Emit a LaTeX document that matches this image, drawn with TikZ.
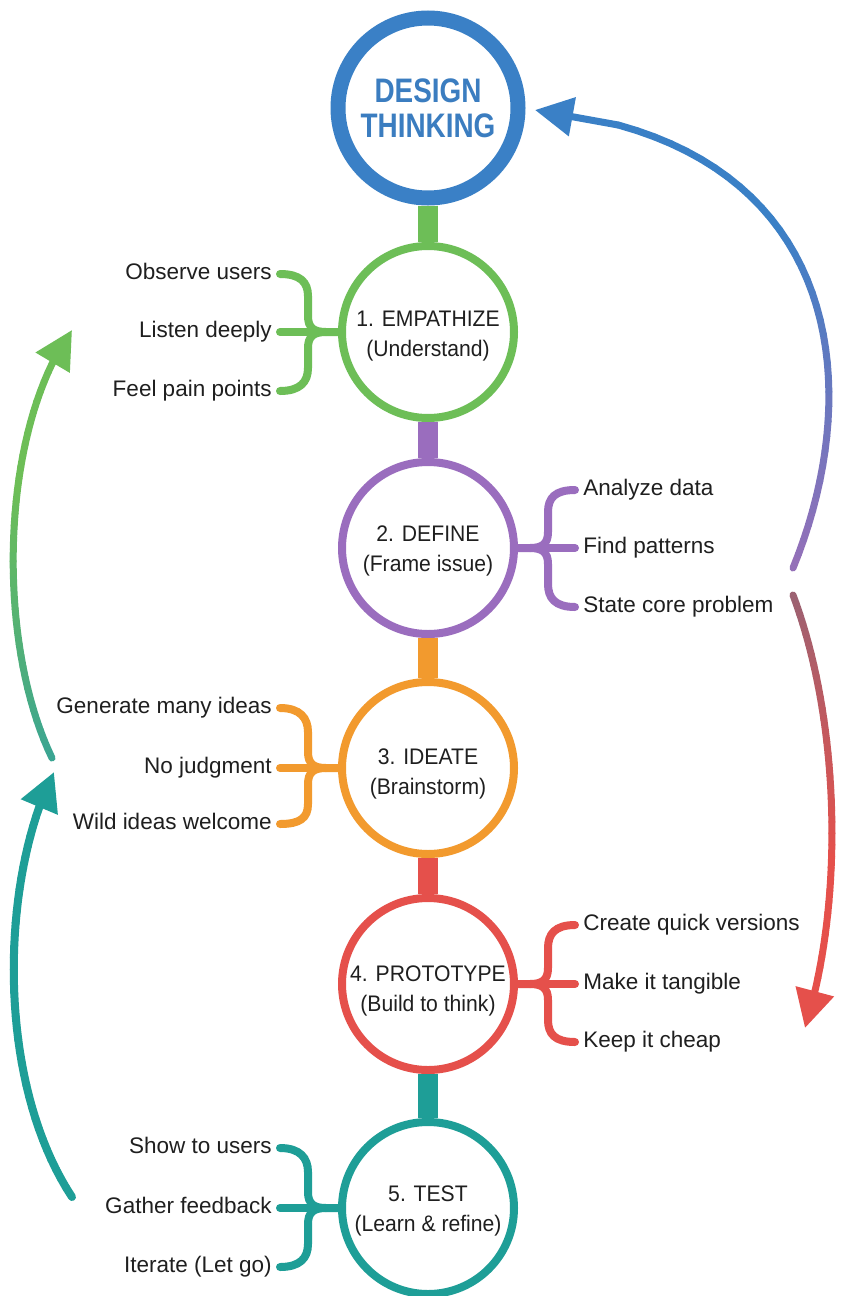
\documentclass[tikz,border=0pt]{standalone}
\usepackage{fontspec}
\setmainfont{Liberation Sans}
\newfontfamily\titlefont[FakeStretch=0.82]{Liberation Sans}
\newfontfamily\circfont[FakeStretch=0.94]{Liberation Sans}
\usetikzlibrary{arrows.meta,calc}
\definecolor{ttlblue}{HTML}{3B7DC0}
\definecolor{ringblue}{HTML}{3A80C6}
\definecolor{cgreen}{HTML}{6DBE57}
\definecolor{cpurple}{HTML}{9A6DBE}
\definecolor{corange}{HTML}{F29A2E}
\definecolor{cred}{HTML}{E5504B}
\definecolor{cteal}{HTML}{1E9E97}
\definecolor{txt}{HTML}{1F1F1F}
\definecolor{abluestart}{HTML}{9470B8}
\definecolor{aredstart}{HTML}{9C6272}
\definecolor{agreenstart}{HTML}{3BA592}
\newcommand\leftbr[6]{%
 \draw[bracepath=#1] ($(#4.mid east)+(8,0)$) .. controls +(20,0) and +(0,-14) .. (308,#3-36) -- (308,#3-16) .. controls +(0,12) and +(-12,0) .. (326,#3) -- (#2.west);
 \draw[bracepath=#1] ($(#6.mid east)+(8,0)$) .. controls +(20,0) and +(0,14) .. (308,#3+36) -- (308,#3+16) .. controls +(0,-12) and +(-12,0) .. (326,#3);
 \draw[bracepath=#1] ($(#5.mid east)+(8,0)$) -- (#2.west);
}
\newcommand\rightbr[6]{%
 \draw[bracepath=#1] ($(#4.mid west)+(-8,0)$) .. controls +(-20,0) and +(0,-14) .. (548,#3-36) -- (548,#3-16) .. controls +(0,12) and +(12,0) .. (530,#3) -- (#2.east);
 \draw[bracepath=#1] ($(#6.mid west)+(-8,0)$) .. controls +(-20,0) and +(0,14) .. (548,#3+36) -- (548,#3+16) .. controls +(0,-12) and +(12,0) .. (530,#3);
 \draw[bracepath=#1] ($(#5.mid west)+(-8,0)$) -- (#2.east);
}
\newcommand\gradarrow[8]{%
 \foreach \k in {0,...,40}{\path (#2) .. controls #3 and #4 .. (#5) coordinate[pos=\k/40] (#1\k);}
 \foreach \k [evaluate=\k as \kk using int(\k+1)] in {0,...,35}{%
   \pgfmathsetmacro\pc{min(100,100*\k/24)}%
   \draw[arrowline,line width=#8,draw=#7!\pc!#6] (#1\k) -- (#1\kk);}
 \draw[line width=#8,draw=#7,-{Triangle[width=19pt,length=19pt]}] (#136) -- (#140);
}
\begin{document}
\begin{tikzpicture}[x=0.5pt,y=-0.5pt,
  ring/.style={circle,draw=#1,line width=4pt,fill=white,minimum size=86pt,inner sep=0pt},
  ctext/.style={align=center,inner sep=0pt,text=txt,font=\circfont\fontsize{11.25}{15}\selectfont},
  bar/.style={line width=10pt,draw=#1},
  bracepath/.style={draw=#1,line width=4pt,line cap=round},
  labl/.style={inner sep=0pt,text=txt,font=\fontsize{11.25}{13}\selectfont,anchor=mid east},
  labr/.style={inner sep=0pt,text=txt,font=\fontsize{11.25}{13}\selectfont,anchor=mid west},
  arrowline/.style={line cap=round}]
\useasboundingbox (0,0) rectangle (844,1296);
\fill[white] (0,0) rectangle (844,1296);

% circles
\node[circle,draw=ringblue,line width=7.5pt,fill=white,minimum size=90pt,inner sep=0pt,
  align=center,text=ttlblue,font=\titlefont\bfseries\fontsize{17}{17.5}\selectfont] (c0) at (428,108) {DESIGN\\THINKING};
\node[ring=cgreen] (c1) at (428,332) {};
\node[ring=cpurple] (c2) at (428,548) {};
\node[ring=corange] (c3) at (428,768) {};
\node[ring=cred] (c4) at (428,984) {};
\node[ring=cteal] (c5) at (428,1208) {};

\node[ctext] (t1) at (428,336) {1. EMPATHIZE\\(Understand)};
\node[ctext] (t2) at (428,551) {2. DEFINE\\(Frame issue)};
\node[ctext] (t3) at (428,774) {3. IDEATE\\(Brainstorm)};
\node[ctext] (t4) at (428,991) {4. PROTOTYPE\\(Build to think)};
\node[ctext] (t5) at (428,1211) {5. TEST\\(Learn \& refine)};

% bars
\draw[bar=cgreen] (c0.south) -- (c1.north);
\draw[bar=cpurple] (c1.south) -- (c2.north);
\draw[bar=corange] (c2.south) -- (c3.north);
\draw[bar=cred] (c3.south) -- (c4.north);
\draw[bar=cteal] (c4.south) -- (c5.north);

% labels
\node[labl] (l1a) at (272,274) {Observe users};
\node[labl] (l1b) at (272,332) {Listen deeply};
\node[labl] (l1c) at (272,391) {Feel pain points};
\node[labr] (l2a) at (583,490) {Analyze data};
\node[labr] (l2b) at (583,548) {Find patterns};
\node[labr] (l2c) at (583,607) {State core problem};
\node[labl] (l3a) at (272,708) {Generate many ideas};
\node[labl] (l3b) at (272,768) {No judgment};
\node[labl] (l3c) at (272,824) {Wild ideas welcome};
\node[labr] (l4a) at (583,925) {Create quick versions};
\node[labr] (l4b) at (583,984) {Make it tangible};
\node[labr] (l4c) at (583,1042) {Keep it cheap};
\node[labl] (l5a) at (272,1148) {Show to users};
\node[labl] (l5b) at (272,1208) {Gather feedback};
\node[labl] (l5c) at (272,1267) {Iterate (Let go)};

% braces
\leftbr{cgreen}{c1}{332}{l1a}{l1b}{l1c}
\rightbr{cpurple}{c2}{548}{l2a}{l2b}{l2c}
\leftbr{corange}{c3}{768}{l3a}{l3b}{l3c}
\rightbr{cred}{c4}{984}{l4a}{l4b}{l4c}
\leftbr{cteal}{c5}{1208}{l5a}{l5b}{l5c}

% loop arrows
\coordinate (bS) at (793,568);
\coordinate (bE) at (535,110);
\coordinate (rS) at (793,595);
\coordinate (rE) at (805,1028);
\coordinate (gS) at (52,758);
\coordinate (gE) at (72,330);
\coordinate (tS) at (72,1197);
\coordinate (tE) at (54,772);
\gradarrow{pb}{bS}{(870,380)}{(840,140)}{bE}{abluestart}{ringblue}{3.5pt}
\gradarrow{pr}{rS}{(840,720)}{(845,900)}{rE}{aredstart}{cred}{3.5pt}
\gradarrow{pg}{gS}{(-5,640)}{(0,430)}{gE}{agreenstart}{cgreen}{3.5pt}
\gradarrow{pt}{tS}{(-5,1080)}{(0,880)}{tE}{cteal}{cteal}{4pt}
\end{tikzpicture}
\end{document}
